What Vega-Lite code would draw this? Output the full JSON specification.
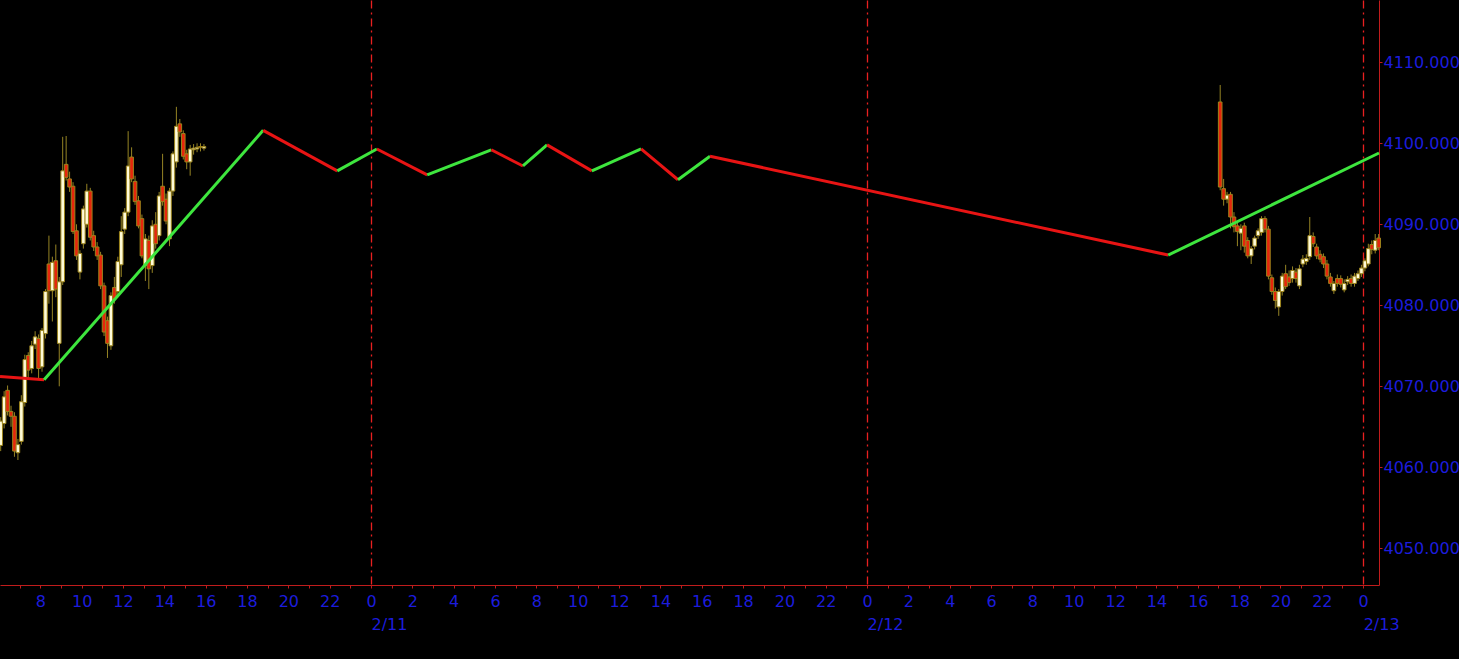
{
  "$schema": "https://vega.github.io/schema/vega-lite/v6.json",
  "width": 1379,
  "height": 585,
  "autosize": {"type": "none"},
  "padding": {"left": 0, "top": 0, "right": 80, "bottom": 74},
  "background": "black",
  "view": {"stroke": null},
  "config": {
    "axis": {
      "labelFont": "DejaVu Sans",
      "labelFontSize": 16,
      "labelColor": "#1c1cdc",
      "domainColor": "#c01c1c",
      "tickColor": "#c01c1c",
      "grid": false
    }
  },
  "datasets": {
    "candles": [
      {"t": "2024-02-10T06:05:00Z", "o": 4062.7, "h": 4066.2, "l": 4062.0, "c": 4065.7},
      {"t": "2024-02-10T06:15:00Z", "o": 4065.4, "h": 4069.4, "l": 4064.8, "c": 4068.7},
      {"t": "2024-02-10T06:25:00Z", "o": 4069.5, "h": 4070.1, "l": 4066.4, "c": 4066.9},
      {"t": "2024-02-10T06:35:00Z", "o": 4066.9, "h": 4067.6, "l": 4065.0, "c": 4066.3},
      {"t": "2024-02-10T06:45:00Z", "o": 4066.3, "h": 4066.8, "l": 4061.3, "c": 4062.0},
      {"t": "2024-02-10T06:55:00Z", "o": 4061.8, "h": 4063.5, "l": 4060.9, "c": 4062.8},
      {"t": "2024-02-10T07:05:00Z", "o": 4063.2, "h": 4068.9, "l": 4062.8, "c": 4068.1},
      {"t": "2024-02-10T07:15:00Z", "o": 4068.0, "h": 4073.9, "l": 4067.5, "c": 4073.3},
      {"t": "2024-02-10T07:25:00Z", "o": 4073.8, "h": 4074.2, "l": 4071.0, "c": 4072.0},
      {"t": "2024-02-10T07:35:00Z", "o": 4072.2, "h": 4075.6, "l": 4071.6, "c": 4075.0},
      {"t": "2024-02-10T07:45:00Z", "o": 4075.2, "h": 4076.8, "l": 4074.6, "c": 4076.1},
      {"t": "2024-02-10T07:55:00Z", "o": 4075.9, "h": 4076.4, "l": 4071.0, "c": 4072.2},
      {"t": "2024-02-10T08:05:00Z", "o": 4072.4, "h": 4077.2, "l": 4071.8, "c": 4076.9},
      {"t": "2024-02-10T08:15:00Z", "o": 4076.5, "h": 4082.0, "l": 4075.9, "c": 4081.7},
      {"t": "2024-02-10T08:25:00Z", "o": 4085.1, "h": 4088.6, "l": 4080.2, "c": 4081.8},
      {"t": "2024-02-10T08:35:00Z", "o": 4081.8, "h": 4086.0, "l": 4078.0, "c": 4085.3},
      {"t": "2024-02-10T08:45:00Z", "o": 4085.5, "h": 4087.5, "l": 4081.0, "c": 4082.0},
      {"t": "2024-02-10T08:55:00Z", "o": 4075.3, "h": 4083.5, "l": 4070.0, "c": 4082.9},
      {"t": "2024-02-10T09:05:00Z", "o": 4082.9, "h": 4100.8, "l": 4082.5, "c": 4096.6},
      {"t": "2024-02-10T09:15:00Z", "o": 4097.4, "h": 4100.9, "l": 4095.4, "c": 4095.8},
      {"t": "2024-02-10T09:25:00Z", "o": 4095.6, "h": 4096.5, "l": 4094.0, "c": 4094.6},
      {"t": "2024-02-10T09:35:00Z", "o": 4094.7, "h": 4095.2, "l": 4088.8, "c": 4089.1},
      {"t": "2024-02-10T09:45:00Z", "o": 4089.2, "h": 4090.0, "l": 4085.6, "c": 4086.1},
      {"t": "2024-02-10T09:55:00Z", "o": 4084.1, "h": 4086.8, "l": 4083.2, "c": 4086.4},
      {"t": "2024-02-10T10:05:00Z", "o": 4087.6, "h": 4092.3, "l": 4087.0, "c": 4091.9},
      {"t": "2024-02-10T10:15:00Z", "o": 4090.0, "h": 4095.0, "l": 4089.6, "c": 4094.1},
      {"t": "2024-02-10T10:25:00Z", "o": 4094.1, "h": 4094.5, "l": 4088.0, "c": 4088.4},
      {"t": "2024-02-10T10:35:00Z", "o": 4088.6, "h": 4089.2, "l": 4086.7, "c": 4087.2},
      {"t": "2024-02-10T10:45:00Z", "o": 4087.2, "h": 4087.8, "l": 4085.6, "c": 4086.1},
      {"t": "2024-02-10T10:55:00Z", "o": 4086.2, "h": 4086.6, "l": 4082.0, "c": 4082.4},
      {"t": "2024-02-10T11:05:00Z", "o": 4082.4, "h": 4082.8, "l": 4076.2, "c": 4076.7},
      {"t": "2024-02-10T11:15:00Z", "o": 4078.1, "h": 4078.6, "l": 4073.5, "c": 4075.3},
      {"t": "2024-02-10T11:25:00Z", "o": 4075.0, "h": 4081.6, "l": 4074.5, "c": 4081.2},
      {"t": "2024-02-10T11:35:00Z", "o": 4082.2, "h": 4083.5, "l": 4080.2, "c": 4080.8},
      {"t": "2024-02-10T11:45:00Z", "o": 4081.7, "h": 4086.0, "l": 4081.0, "c": 4085.4},
      {"t": "2024-02-10T11:55:00Z", "o": 4085.0, "h": 4091.0, "l": 4083.5, "c": 4089.1},
      {"t": "2024-02-10T12:05:00Z", "o": 4089.4, "h": 4092.0, "l": 4088.8, "c": 4091.5},
      {"t": "2024-02-10T12:15:00Z", "o": 4091.5, "h": 4101.5, "l": 4091.0, "c": 4097.2},
      {"t": "2024-02-10T12:25:00Z", "o": 4098.3, "h": 4099.5, "l": 4095.2, "c": 4095.6},
      {"t": "2024-02-10T12:35:00Z", "o": 4095.3, "h": 4096.0, "l": 4092.4, "c": 4092.8},
      {"t": "2024-02-10T12:45:00Z", "o": 4092.9, "h": 4093.5, "l": 4089.5, "c": 4089.8},
      {"t": "2024-02-10T12:55:00Z", "o": 4090.7, "h": 4091.2, "l": 4085.8, "c": 4086.1},
      {"t": "2024-02-10T13:05:00Z", "o": 4084.9, "h": 4088.8, "l": 4083.0, "c": 4088.2},
      {"t": "2024-02-10T13:15:00Z", "o": 4088.0, "h": 4088.6, "l": 4082.0, "c": 4084.5},
      {"t": "2024-02-10T13:25:00Z", "o": 4084.9, "h": 4090.5, "l": 4084.0, "c": 4089.8},
      {"t": "2024-02-10T13:35:00Z", "o": 4090.0, "h": 4091.5, "l": 4087.0, "c": 4087.6},
      {"t": "2024-02-10T13:45:00Z", "o": 4088.6, "h": 4094.0, "l": 4088.0, "c": 4093.5},
      {"t": "2024-02-10T13:55:00Z", "o": 4094.7, "h": 4098.7, "l": 4092.3, "c": 4092.8},
      {"t": "2024-02-10T14:05:00Z", "o": 4093.1, "h": 4093.8, "l": 4090.0, "c": 4090.4},
      {"t": "2024-02-10T14:15:00Z", "o": 4088.2, "h": 4094.5, "l": 4087.3, "c": 4094.1},
      {"t": "2024-02-10T14:25:00Z", "o": 4094.1, "h": 4099.0, "l": 4093.5, "c": 4098.7},
      {"t": "2024-02-10T14:35:00Z", "o": 4097.7, "h": 4104.5, "l": 4097.0, "c": 4102.1},
      {"t": "2024-02-10T14:45:00Z", "o": 4102.4, "h": 4103.0, "l": 4100.8, "c": 4101.4},
      {"t": "2024-02-10T14:55:00Z", "o": 4101.2, "h": 4101.6, "l": 4098.0, "c": 4098.4},
      {"t": "2024-02-10T15:05:00Z", "o": 4098.7, "h": 4099.2, "l": 4096.8, "c": 4097.7},
      {"t": "2024-02-10T15:15:00Z", "o": 4097.7, "h": 4099.8, "l": 4096.0, "c": 4099.3},
      {"t": "2024-02-10T15:25:00Z", "o": 4099.2, "h": 4099.9, "l": 4098.6, "c": 4099.4},
      {"t": "2024-02-10T15:35:00Z", "o": 4099.3, "h": 4100.0, "l": 4098.9, "c": 4099.5},
      {"t": "2024-02-10T15:45:00Z", "o": 4099.6, "h": 4100.0, "l": 4099.0, "c": 4099.5},
      {"t": "2024-02-10T15:55:00Z", "o": 4099.4, "h": 4099.9, "l": 4099.1, "c": 4099.6},
      {"t": "2024-02-12T17:05:00Z", "o": 4105.1, "h": 4107.2, "l": 4094.2, "c": 4094.6},
      {"t": "2024-02-12T17:15:00Z", "o": 4094.4, "h": 4095.6, "l": 4092.3, "c": 4093.1},
      {"t": "2024-02-12T17:25:00Z", "o": 4093.1, "h": 4094.0, "l": 4092.6, "c": 4093.6},
      {"t": "2024-02-12T17:35:00Z", "o": 4093.7, "h": 4094.0, "l": 4089.5, "c": 4090.9},
      {"t": "2024-02-12T17:45:00Z", "o": 4090.9, "h": 4091.5, "l": 4089.0, "c": 4089.7},
      {"t": "2024-02-12T17:55:00Z", "o": 4089.8, "h": 4090.3, "l": 4087.3, "c": 4089.1},
      {"t": "2024-02-12T18:05:00Z", "o": 4088.9, "h": 4090.0, "l": 4086.8, "c": 4089.5},
      {"t": "2024-02-12T18:15:00Z", "o": 4089.8, "h": 4090.2, "l": 4086.5, "c": 4087.3},
      {"t": "2024-02-12T18:25:00Z", "o": 4088.0, "h": 4088.4, "l": 4085.8, "c": 4086.1},
      {"t": "2024-02-12T18:35:00Z", "o": 4086.1, "h": 4087.3, "l": 4085.1, "c": 4087.0},
      {"t": "2024-02-12T18:45:00Z", "o": 4087.3, "h": 4088.6, "l": 4086.9, "c": 4088.3},
      {"t": "2024-02-12T18:55:00Z", "o": 4088.6, "h": 4089.5, "l": 4088.2, "c": 4089.2},
      {"t": "2024-02-12T19:05:00Z", "o": 4089.0, "h": 4091.0, "l": 4088.6, "c": 4090.7},
      {"t": "2024-02-12T19:15:00Z", "o": 4090.7, "h": 4091.0, "l": 4089.0, "c": 4089.4},
      {"t": "2024-02-12T19:25:00Z", "o": 4089.4, "h": 4089.8, "l": 4083.2, "c": 4083.6},
      {"t": "2024-02-12T19:35:00Z", "o": 4083.4, "h": 4083.8, "l": 4081.3, "c": 4081.7},
      {"t": "2024-02-12T19:45:00Z", "o": 4081.7, "h": 4082.2, "l": 4079.6, "c": 4080.6},
      {"t": "2024-02-12T19:55:00Z", "o": 4079.8, "h": 4082.0, "l": 4078.7, "c": 4081.7},
      {"t": "2024-02-12T20:05:00Z", "o": 4081.7, "h": 4084.0, "l": 4081.2, "c": 4083.6},
      {"t": "2024-02-12T20:15:00Z", "o": 4083.9, "h": 4085.0, "l": 4082.0, "c": 4082.3},
      {"t": "2024-02-12T20:25:00Z", "o": 4083.5, "h": 4084.3, "l": 4082.4, "c": 4082.8},
      {"t": "2024-02-12T20:35:00Z", "o": 4083.3, "h": 4084.8, "l": 4082.8, "c": 4084.3},
      {"t": "2024-02-12T20:45:00Z", "o": 4084.1, "h": 4084.6, "l": 4082.8, "c": 4083.3},
      {"t": "2024-02-12T20:55:00Z", "o": 4082.4, "h": 4085.0, "l": 4082.0, "c": 4084.5},
      {"t": "2024-02-12T21:05:00Z", "o": 4085.1, "h": 4086.2, "l": 4084.7, "c": 4085.7},
      {"t": "2024-02-12T21:15:00Z", "o": 4085.4, "h": 4086.3, "l": 4085.0, "c": 4085.8},
      {"t": "2024-02-12T21:25:00Z", "o": 4086.0, "h": 4090.9, "l": 4085.6, "c": 4088.6},
      {"t": "2024-02-12T21:35:00Z", "o": 4088.5, "h": 4089.0, "l": 4087.2, "c": 4087.6},
      {"t": "2024-02-12T21:45:00Z", "o": 4087.2, "h": 4087.6, "l": 4085.7, "c": 4086.1},
      {"t": "2024-02-12T21:55:00Z", "o": 4086.3, "h": 4086.8, "l": 4085.3, "c": 4085.7},
      {"t": "2024-02-12T22:05:00Z", "o": 4086.0, "h": 4086.4, "l": 4084.6, "c": 4085.1},
      {"t": "2024-02-12T22:15:00Z", "o": 4085.1, "h": 4085.6, "l": 4083.2, "c": 4083.6},
      {"t": "2024-02-12T22:25:00Z", "o": 4083.5, "h": 4084.0, "l": 4082.3, "c": 4082.7},
      {"t": "2024-02-12T22:35:00Z", "o": 4081.8, "h": 4083.0, "l": 4081.4, "c": 4082.7},
      {"t": "2024-02-12T22:45:00Z", "o": 4083.3, "h": 4083.8, "l": 4082.3, "c": 4082.7},
      {"t": "2024-02-12T22:55:00Z", "o": 4083.3, "h": 4083.7, "l": 4082.2, "c": 4082.6},
      {"t": "2024-02-12T23:05:00Z", "o": 4081.9, "h": 4083.2, "l": 4081.6, "c": 4082.7},
      {"t": "2024-02-12T23:15:00Z", "o": 4082.9, "h": 4083.6, "l": 4082.5, "c": 4083.2},
      {"t": "2024-02-12T23:25:00Z", "o": 4083.3, "h": 4083.8, "l": 4082.3, "c": 4082.7},
      {"t": "2024-02-12T23:35:00Z", "o": 4082.7, "h": 4084.0, "l": 4082.3, "c": 4083.6},
      {"t": "2024-02-12T23:45:00Z", "o": 4083.3, "h": 4084.3, "l": 4083.0, "c": 4083.9},
      {"t": "2024-02-12T23:55:00Z", "o": 4083.9, "h": 4085.0, "l": 4083.5, "c": 4084.6},
      {"t": "2024-02-13T00:05:00Z", "o": 4084.6, "h": 4085.8, "l": 4084.2, "c": 4085.5},
      {"t": "2024-02-13T00:15:00Z", "o": 4085.1, "h": 4087.6, "l": 4084.8, "c": 4087.0},
      {"t": "2024-02-13T00:25:00Z", "o": 4087.5, "h": 4088.0, "l": 4086.3, "c": 4086.9},
      {"t": "2024-02-13T00:35:00Z", "o": 4086.8, "h": 4088.8, "l": 4086.4, "c": 4088.0},
      {"t": "2024-02-13T00:45:00Z", "o": 4088.3, "h": 4088.8, "l": 4086.8, "c": 4087.1}
    ],
    "segs": [
      {"t1": "2024-02-10T06:03:00Z", "v1": 4071.2, "t2": "2024-02-10T08:11:00Z", "v2": 4070.8},
      {"t1": "2024-02-10T08:11:00Z", "v1": 4070.8, "t2": "2024-02-10T18:47:00Z", "v2": 4101.6},
      {"t1": "2024-02-10T18:47:00Z", "v1": 4101.6, "t2": "2024-02-10T22:22:00Z", "v2": 4096.6},
      {"t1": "2024-02-10T22:22:00Z", "v1": 4096.6, "t2": "2024-02-11T00:17:00Z", "v2": 4099.3},
      {"t1": "2024-02-11T00:17:00Z", "v1": 4099.3, "t2": "2024-02-11T02:43:00Z", "v2": 4096.1},
      {"t1": "2024-02-11T02:43:00Z", "v1": 4096.1, "t2": "2024-02-11T05:49:00Z", "v2": 4099.2},
      {"t1": "2024-02-11T05:49:00Z", "v1": 4099.2, "t2": "2024-02-11T07:21:00Z", "v2": 4097.2},
      {"t1": "2024-02-11T07:21:00Z", "v1": 4097.2, "t2": "2024-02-11T08:31:00Z", "v2": 4099.8},
      {"t1": "2024-02-11T08:31:00Z", "v1": 4099.8, "t2": "2024-02-11T10:41:00Z", "v2": 4096.6},
      {"t1": "2024-02-11T10:41:00Z", "v1": 4096.6, "t2": "2024-02-11T13:04:00Z", "v2": 4099.3},
      {"t1": "2024-02-11T13:04:00Z", "v1": 4099.3, "t2": "2024-02-11T14:51:00Z", "v2": 4095.5},
      {"t1": "2024-02-11T14:51:00Z", "v1": 4095.5, "t2": "2024-02-11T16:24:00Z", "v2": 4098.4},
      {"t1": "2024-02-11T16:24:00Z", "v1": 4098.4, "t2": "2024-02-12T14:34:00Z", "v2": 4086.2},
      {"t1": "2024-02-12T14:34:00Z", "v1": 4086.2, "t2": "2024-02-13T00:46:00Z", "v2": 4098.8}
    ]
  },
  "layer": [
    {
      "data": {"name": "candles"},
      "mark": {"type": "rule", "color": "#968424", "strokeWidth": 1},
      "encoding": {
        "x": {
          "field": "t",
          "type": "temporal",
          "title": null,
          "scale": {
            "type": "utc",
            "nice": false,
            "padding": 0,
            "domain": [
              {"year": 2024, "month": 2, "date": 10, "hours": 6, "minutes": 3, "utc": true},
              {"year": 2024, "month": 2, "date": 13, "hours": 0, "minutes": 46, "utc": true}
            ]
          },
          "axis": {
            "orient": "bottom",
            "tickCount": 67,
            "labelExpr": "utchours(datum.value) % 2 == 0 ? utcFormat(datum.value, '%-H') : ''",
            "tickSize": 3,
            "labelPadding": 5,
            "labelFlush": false,
            "labelOverlap": false
          }
        },
        "y": {
          "field": "l",
          "type": "quantitative",
          "title": null,
          "scale": {"domain": [4045.47, 4117.69], "zero": false, "nice": false},
          "axis": {
            "orient": "right",
            "values": [4050, 4060, 4070, 4080, 4090, 4100, 4110],
            "format": ".3f",
            "tickSize": 3,
            "labelPadding": 1
          }
        },
        "y2": {"field": "h"}
      }
    },
    {
      "data": {"name": "candles"},
      "mark": {"type": "bar", "width": 3.6, "stroke": "#9c841c", "strokeWidth": 1},
      "encoding": {
        "x": {"field": "t", "type": "temporal", "title": null, "axis": null},
        "y": {"field": "o", "type": "quantitative", "title": null},
        "y2": {"field": "c"},
        "fill": {
          "condition": {"test": "datum.c >= datum.o", "value": "#fffbd8"},
          "value": "#e6260c"
        }
      }
    },
    {
      "data": {"name": "segs"},
      "mark": {"type": "rule", "strokeWidth": 3},
      "encoding": {
        "x": {
          "field": "t1",
          "type": "temporal",
          "title": null,
          "axis": {
            "orient": "bottom",
            "values": [
              {"year": 2024, "month": 2, "date": 11, "utc": true},
              {"year": 2024, "month": 2, "date": 12, "utc": true},
              {"year": 2024, "month": 2, "date": 13, "utc": true}
            ],
            "labelExpr": "utcFormat(datum.value, '%-m/%-d')",
            "labelAlign": "left",
            "labelPadding": 31,
            "domain": false,
            "ticks": false,
            "grid": true,
            "gridColor": "#e82020",
            "gridOpacity": 1,
            "gridDash": [8, 4, 2, 4],
            "gridWidth": 1.3,
            "labelFlush": false,
            "labelOverlap": false
          }
        },
        "x2": {"field": "t2"},
        "y": {"field": "v1", "type": "quantitative", "title": null},
        "y2": {"field": "v2"},
        "color": {
          "condition": {"test": "datum.v2 < datum.v1", "value": "#e81414"},
          "value": "#3ee63e"
        }
      }
    }
  ],
  "resolve": {"axis": {"x": "independent"}}
}
